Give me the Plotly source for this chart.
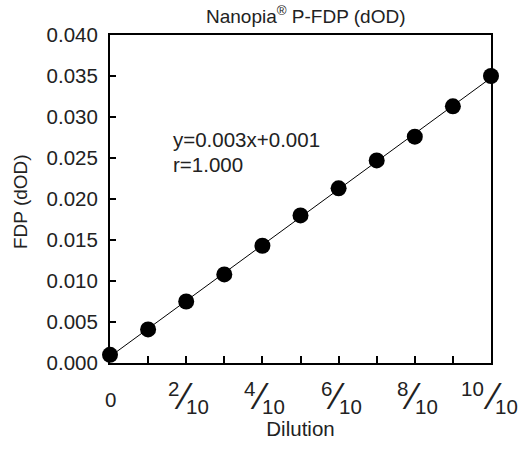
import numpy as np
import plotly.graph_objects as go

dilution = [0, 1, 2, 3, 4, 5, 6, 7, 8, 9, 10]
fdp = [0.0010, 0.0041, 0.0075, 0.0108, 0.0143, 0.0180, 0.0213, 0.0247, 0.0276, 0.0313, 0.0350]
xtick_vals = [2, 4, 6, 8, 10]
xtick_num = ["2", "4", "6", "8", "10"]
xtick_den = "10"
ytick_vals = [0, 0.005, 0.010, 0.015, 0.020, 0.025, 0.030, 0.035, 0.040]

slope, intercept = np.polyfit(dilution, fdp, 1)
line_x = [min(dilution), max(dilution)]
line_y = [slope * v + intercept for v in line_x]

FONT = "Liberation Sans, Arial, Helvetica, sans-serif"
TXT = "#222222"
TF = 20.5

fig = go.Figure()
fig.add_trace(go.Scatter(x=line_x, y=line_y, mode="lines",
                         line=dict(color="black", width=1), hoverinfo="skip", showlegend=False))
fig.add_trace(go.Scatter(x=dilution, y=fdp, mode="markers",
                         marker=dict(color="black", size=16), cliponaxis=False, showlegend=False))

fig.add_annotation(x=1.6, y=0.0272, xref="x", yref="y", xanchor="left", yanchor="middle",
                   text="y=0.003x+0.001", showarrow=False, font=dict(size=TF, color=TXT, family=FONT))
fig.add_annotation(x=1.6, y=0.0242, xref="x", yref="y", xanchor="left", yanchor="middle",
                   text="r=1.000", showarrow=False, font=dict(size=TF, color=TXT, family=FONT))

# y axis title
fig.add_annotation(x=0, y=0.5, xref="paper", yref="paper", xanchor="center", yanchor="middle",
                   xshift=-90, yshift=-3, textangle=-90, text="FDP (dOD)", showarrow=False,
                   font=dict(size=19, color=TXT, family=FONT))

# x tick labels: "0" and stacked fractions n/10
fig.add_annotation(x=0, y=0, xref="x", yref="paper", xanchor="center", yanchor="middle",
                   yshift=-36, text="0", showarrow=False, font=dict(size=TF, color=TXT, family=FONT))
for xv, n in zip(xtick_vals, xtick_num):
    wide = len(n) > 1
    num_right = -8
    slash_c = 1 if wide else -3
    den_left = 5 if wide else 1
    fig.add_annotation(x=xv, y=0, xref="x", yref="paper", xanchor="right", yanchor="middle",
                       xshift=num_right + 3, yshift=-25, text=n, showarrow=False,
                       font=dict(size=TF, color=TXT, family=FONT))
    fig.add_annotation(x=xv, y=0, xref="x", yref="paper", xanchor="center", yanchor="middle",
                       xshift=slash_c, yshift=-33, text="⁄", showarrow=False,
                       font=dict(size=36, color=TXT, family=FONT))
    fig.add_annotation(x=xv, y=0, xref="x", yref="paper", xanchor="left", yanchor="middle",
                       xshift=den_left - 3, yshift=-43.5, text=xtick_den, showarrow=False,
                       font=dict(size=TF, color=TXT, family=FONT))

fig.update_layout(
    width=529, height=457,
    margin=dict(l=110, r=38, t=35, b=94),
    paper_bgcolor="white", plot_bgcolor="white",
    font=dict(family=FONT, size=TF, color=TXT),
    title=dict(text="Nanopia<sup>®</sup> P-FDP (dOD)", x=0.578, xanchor="center",
               y=0.965, yanchor="middle", font=dict(size=19, color=TXT)),
    xaxis=dict(range=[0, 10], tickmode="array", tickvals=dilution, showticklabels=False,
               showgrid=False, zeroline=False, showline=True, linecolor="black", linewidth=2,
               mirror=True, ticks="inside", ticklen=7, tickwidth=2, tickcolor="black",
               title=dict(text="Dilution", standoff=58, font=dict(size=TF))),
    yaxis=dict(range=[0, 0.040], tickmode="array", tickvals=ytick_vals, tickformat=".3f",
               showgrid=False, zeroline=False, showline=True, linecolor="black", linewidth=2,
               mirror=True, ticks="inside", ticklen=6, tickwidth=2, tickcolor="black",
               ticklabelstandoff=6),
)

fig.write_html("out.html")
